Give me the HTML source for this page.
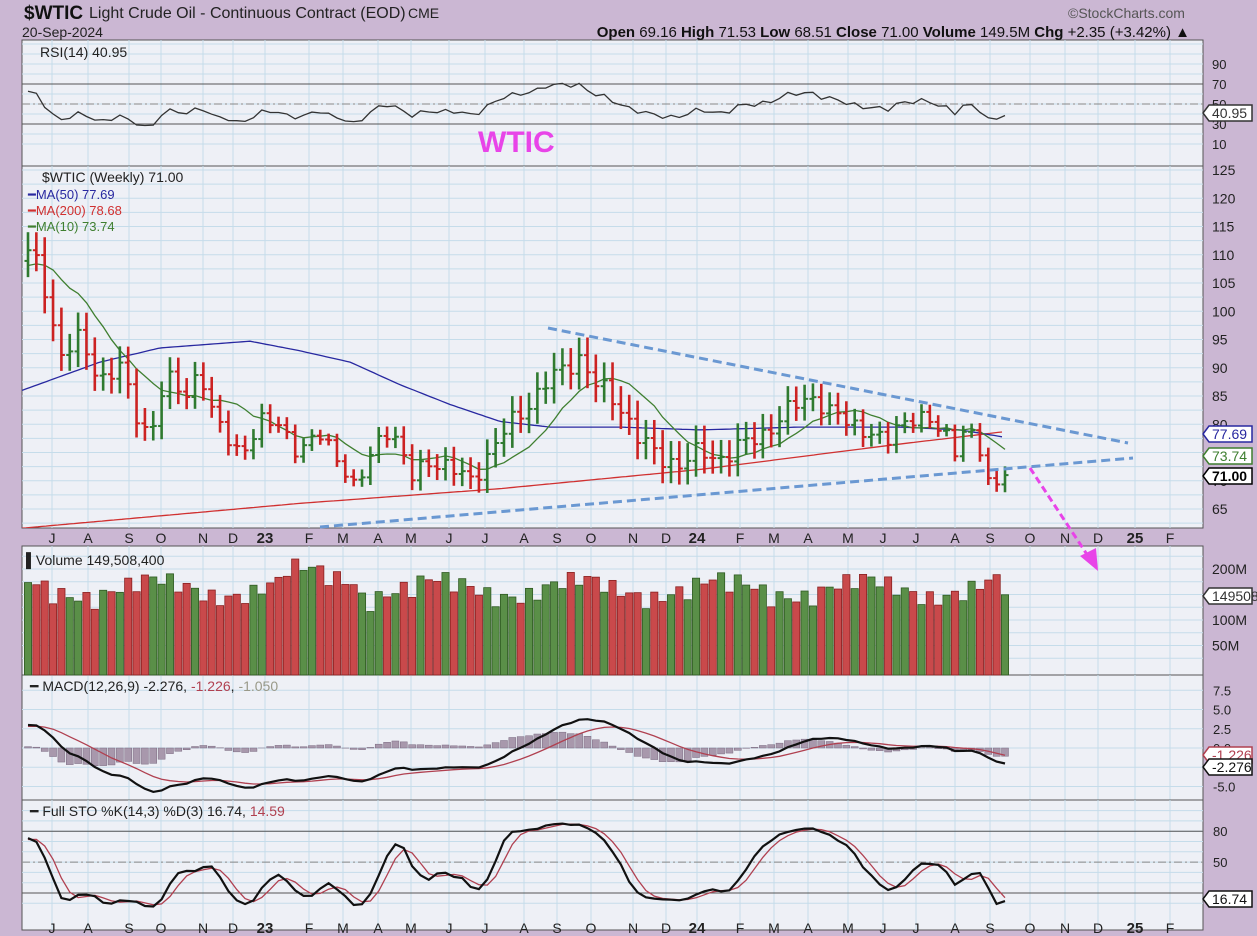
<!DOCTYPE html>
<html><head><meta charset="utf-8"><style>
body{margin:0;background:#cbb7d3;width:1257px;height:936px;overflow:hidden;font-family:"Liberation Sans",sans-serif}
svg{position:absolute;left:0;top:0}
</style></head><body>
<svg id="s" width="1257" height="936" xmlns="http://www.w3.org/2000/svg" font-family="Liberation Sans, sans-serif"></svg>
<script>
const S=document.getElementById('s');let h='';
const L=22,R=1203;
const P={rsi:[40,166],pr:[166,528],vol:[546,675],macd:[675,800],sto:[800,930]};
const months=[[52,'J'],[88,'A'],[129,'S'],[161,'O'],[203,'N'],[233,'D'],[265,'23'],[309,'F'],[343,'M'],[378,'A'],[411,'M'],[449,'J'],[485,'J'],[524,'A'],[557,'S'],[591,'O'],[633,'N'],[666,'D'],[697,'24'],[740,'F'],[774,'M'],[808,'A'],[848,'M'],[883,'J'],[916,'J'],[955,'A'],[990,'S'],[1030,'O'],[1065,'N'],[1098,'D'],[1135,'25'],[1170,'F']];
for(const k in P){const [a,b]=P[k];h+=`<rect x="${L}" y="${a}" width="${R-L}" height="${b-a}" fill="#eef0f6" stroke="#555" stroke-width="1"/>`;
 months.forEach(m=>{h+=`<line x1="${m[0]}" x2="${m[0]}" y1="${a}" y2="${b}" stroke="#c5dcea" stroke-width="1"/>`;});}
function hl(y,a,b){h+=`<line x1="${L}" x2="${R}" y1="${y}" y2="${y}" stroke="#c5dcea"/>`}
const py=p=>509-(p-65)*5.65;
for(let p=65;p<=125;p+=5){hl(py(p));h+=`<text x="1212" y="${py(p)+5}" font-size="14" fill="#222">${p}</text>`;}
for(let p=62.5;p<=125;p+=5)hl(py(p));
const ry=v=>154-v;
[10,30,50,70,90].forEach(v=>{h+=`<text x="1212" y="${ry(v)+5}" font-size="13" fill="#222">${v}</text>`});
for(let v=10;v<=110;v+=10)hl(ry(v));
h+=`<line x1="${L}" x2="${R}" y1="${ry(70)}" y2="${ry(70)}" stroke="#555"/><line x1="${L}" x2="${R}" y1="${ry(30)}" y2="${ry(30)}" stroke="#555"/><line x1="${L}" x2="${R}" y1="${ry(50)}" y2="${ry(50)}" stroke="#888" stroke-dasharray="8,3,2,3"/>`;
const vy=v=>671-v*0.51;
for(let v=25;v<=225;v+=25)hl(vy(v));
[[200,'200M'],[100,'100M'],[50,'50M']].forEach(a=>h+=`<text x="1212" y="${vy(a[0])+5}" font-size="14" fill="#222">${a[1]}</text>`);
const my=v=>748-v*7.7;
for(let v=-5;v<=7.5;v+=2.5){hl(my(v));h+=`<text x="1213" y="${my(v)+5}" font-size="13" fill="#222">${v.toFixed(1)}</text>`}
const sy=v=>913.6-v*1.03;
for(let v=10;v<=100;v+=10)hl(sy(v));
h+=`<line x1="${L}" x2="${R}" y1="${sy(80)}" y2="${sy(80)}" stroke="#555"/><line x1="${L}" x2="${R}" y1="${sy(20)}" y2="${sy(20)}" stroke="#555"/><line x1="${L}" x2="${R}" y1="${sy(50)}" y2="${sy(50)}" stroke="#888" stroke-dasharray="8,3,2,3"/>`;
[[80,'80'],[50,'50']].forEach(a=>h+=`<text x="1213" y="${sy(a[0])+5}" font-size="13" fill="#222">${a[1]}</text>`);
months.forEach(m=>{const b=m[1].length>1;h+=`<text x="${m[0]}" y="543" font-size="${b?15:14}" font-weight="${b?'bold':'normal'}" text-anchor="middle" fill="#222">${m[1]}</text>`;h+=`<text x="${m[0]}" y="933" font-size="${b?15:14}" font-weight="${b?'bold':'normal'}" text-anchor="middle" fill="#222">${m[1]}</text>`;});
const kf=[[28,110],[40,108],[50,100],[60,92],[80,95],[100,88],[120,90],[135,82],[150,78],[165,88],[185,85],[200,90],[215,80],[240,75],[260,80],[280,80],[300,75],[320,78],[340,74],[355,68],[370,74],[385,80],[400,76],[410,70],[430,74],[450,72],[470,70],[490,75],[510,80],[525,83],[545,87],[565,90],[580,92],[595,87],[610,85],[625,82],[640,77],[660,74],[680,73],[700,75],[720,74],[740,76],[760,78],[780,81],[800,84],[815,85],[830,82],[850,80],[870,79],[885,76],[900,80],[915,82],[930,80],[945,78],[955,76],[965,80],[980,75],[990,68],[1005,71]];
function interp(x){for(let i=0;i<kf.length-1;i++){if(x<=kf[i+1][0]){const t=(x-kf[i][0])/(kf[i+1][0]-kf[i][0]);return kf[i][1]+t*(kf[i+1][1]-kf[i][1]);}}return kf[kf.length-1][1];}
const N=118,st=(1005-28)/(N-1);const W=40;
let C=[],H=[],Lo=[],O=[];
for(let i=0;i<W;i++){C.push(92+18*i/W+Math.sin(i*1.7)*2);}
for(let i=0;i<N;i++){const x=28+i*st;let c=interp(x)+Math.sin(i*2.3)*1.3+Math.cos(i*1.1)*0.8;if(i==N-1)c=71;C.push(c);}
for(let i=0;i<C.length;i++){const o=i?C[i-1]:C[i];O.push(o);const r=1+Math.abs(Math.sin(i*3.1))*2.2;H.push(Math.max(o,C[i])+r);Lo.push(Math.min(o,C[i])-r*0.9);}
const X=i=>28+(i-W)*st;
function sma(n,i){let s=0;for(let j=i-n+1;j<=i;j++)s+=C[Math.max(0,j)];return s/n}
function line(pts,col,w){return `<polyline fill="none" stroke="${col}" stroke-width="${w}" points="${pts.map(p=>p[0].toFixed(1)+','+p[1].toFixed(1)).join(' ')}"/>`}
const m50k=[[22,86],[100,91],[160,93.5],[250,94.7],[300,93],[350,91],[400,87],[450,83.5],[500,80.5],[550,79.5],[620,79.5],[700,79],[800,79.5],[900,79.5],[960,79],[1005,77.7]];
function ki(k,x){for(let i=0;i<k.length-1;i++)if(x<=k[i+1][0]){const t=(x-k[i][0])/(k[i+1][0]-k[i][0]);return k[i][1]+t*(k[i+1][1]-k[i][1])}return k[k.length-1][1]}
const m200k=[[22,61.6],[300,66],[500,68.6],[700,72],[900,76.5],[1005,78.7]];
let a=[],b=[],g=[];
for(let x=22;x<=1005;x+=4){a.push([x,py(ki(m50k,x))]);b.push([x,py(ki(m200k,x))]);}
for(let i=W;i<C.length;i++)g.push([X(i),py(sma(10,i))]);
h+=`<clipPath id="cp"><rect x="${L}" y="166" width="${R-L}" height="362"/></clipPath><g clip-path="url(#cp)">`;
h+=line(b,'#d03030',1.3)+line(a,'#2828a0',1.3)+line(g,'#3f7f30',1.3);
for(let i=W;i<C.length;i++){const x=X(i),col=C[i]>=O[i]?'#2f7a2f':'#cc2222';
h+=`<line x1="${x}" x2="${x}" y1="${py(H[i])}" y2="${py(Lo[i])}" stroke="${col}" stroke-width="2.6"/><line x1="${x-3.5}" x2="${x}" y1="${py(O[i])}" y2="${py(O[i])}" stroke="${col}" stroke-width="2"/><line x1="${x}" x2="${x+3.5}" y1="${py(C[i])}" y2="${py(C[i])}" stroke="${col}" stroke-width="2"/>`;}
h+=`</g>`;
h+=`<line x1="548" y1="328" x2="1128" y2="443" stroke="#6a98d2" stroke-width="3" stroke-dasharray="9,5"/><line x1="320" y1="527" x2="1133" y2="458" stroke="#6a98d2" stroke-width="3" stroke-dasharray="9,5"/>`;
h+=`<line x1="1030" y1="468" x2="1088" y2="556" stroke="#e844e8" stroke-width="3" stroke-dasharray="7,4"/><polygon points="1098,571 1080,556 1096,548" fill="#e844e8"/>`;
for(let i=W;i<C.length;i++){const x=X(i),v=135+40*Math.abs(Math.sin(i*1.9))+20*Math.sin(i*0.37)+(i>W+30&&i<W+40?25:0);const vv=i==C.length-1?149.5:v;const up=C[i]>=O[i];
h+=`<rect x="${x-3.6}" y="${vy(vv)}" width="7.2" height="${671-vy(vv)+4}" fill="${up?'#5a8f48':'#c9494b'}" stroke="${up?'#2f5a22':'#8a2020'}" stroke-width="0.8"/>`;}
let rs=[],ag=0,al=0;for(let i=1;i<C.length;i++){const d=C[i]-C[i-1];const gg=Math.max(d,0),ll=Math.max(-d,0);if(i<=14){ag+=gg/14;al+=ll/14}else{ag=(ag*13+gg)/14;al=(al*13+ll)/14}if(i>=W){rs.push([X(i),ry(100-100/(1+ag/(al||1e-6)))])}}
h+=line(rs,'#333',1.3);
function ema(arr,n){const k=2/(n+1);let e=arr[0],o=[];arr.forEach(v=>{e=v*k+e*(1-k);o.push(e)});return o}
const e12=ema(C,12),e26=ema(C,26),md=C.map((_,i)=>e12[i]-e26[i]),sg=ema(md,9);
let mp=[],sp=[];for(let i=W;i<C.length;i++){const x=X(i),hv=md[i]-sg[i];h+=`<rect x="${x-3.5}" y="${Math.min(my(0),my(hv))}" width="7" height="${Math.abs(my(hv)-my(0))}" fill="#a898ac" stroke="#7a6a80" stroke-width="0.5"/>`;mp.push([x,my(md[i])]);sp.push([x,my(sg[i])]);}
h+=line(sp,'#b04050',1.3)+line(mp,'#111',2.2);
let rk=C.map((c,i)=>{let hh=-1e9,ll=1e9;for(let j=Math.max(0,i-13);j<=i;j++){hh=Math.max(hh,H[j]);ll=Math.min(ll,Lo[j])}return (c-ll)/(hh-ll)*100});
const sm=(arr,n)=>arr.map((_,i)=>{let s=0;for(let j=i-n+1;j<=i;j++)s+=arr[Math.max(0,j)];return s/n});
const K=sm(rk,3),D=sm(K,3);let kp=[],dp=[];
for(let i=W;i<C.length;i++){kp.push([X(i),sy(K[i])]);dp.push([X(i),sy(D[i])])}
h+=line(dp,'#b04050',1.3)+line(kp,'#111',2.2);
function tag(y,t,col,bold){h+=`<polygon points="1203,${y} 1209,${y-8} 1252,${y-8} 1252,${y+8} 1209,${y+8}" fill="#fff" stroke="${col}" stroke-width="1.5"/><text x="1212" y="${y+5}" font-size="14" font-weight="${bold?'bold':'normal'}" fill="${col}">${t}</text>`}
tag(434,'77.69','#2828a0');tag(456,'73.74','#3f7f30');tag(476,'71.00','#000',1);tag(113,'40.95','#333');tag(596,'149508','#333');tag(755,'-1.226','#b04050');tag(767,'-2.276','#111');tag(899,'16.74','#111');
h+=`<text x="24" y="19" font-size="19" font-weight="bold" fill="#111">$WTIC</text><text x="89" y="18" font-size="16" fill="#222">Light Crude Oil - Continuous Contract (EOD)</text><text x="408" y="18" font-size="14" fill="#222">CME</text>`;
h+=`<text x="1068" y="18" font-size="14" fill="#555">©StockCharts.com</text><text x="22" y="37" font-size="14" fill="#222">20-Sep-2024</text>`;
h+=`<text x="1190" y="37" font-size="15" text-anchor="end" fill="#111"><tspan font-weight="bold">Open</tspan> 69.16  <tspan font-weight="bold">High</tspan> 71.53  <tspan font-weight="bold">Low</tspan> 68.51  <tspan font-weight="bold">Close</tspan> 71.00  <tspan font-weight="bold">Volume</tspan> 149.5M  <tspan font-weight="bold">Chg</tspan> +2.35 (+3.42%) ▲</text>`;
h+=`<text x="40" y="57" font-size="14" fill="#222">RSI(14) 40.95</text><text x="478" y="152" font-size="30" font-weight="bold" fill="#e844e8">WTIC</text>`;
h+=`<text x="42" y="182" font-size="14" fill="#222">$WTIC (Weekly) 71.00</text><text x="28" y="199" font-size="13" fill="#2828a0">━MA(50) 77.69</text><text x="28" y="215" font-size="13" fill="#d03030">━MA(200) 78.68</text><text x="28" y="231" font-size="13" fill="#3f7f30">━MA(10) 73.74</text>`;
h+=`<text x="26" y="565" font-size="14" fill="#222">▌Volume 149,508,400</text>`;
h+=`<text x="30" y="691" font-size="14" fill="#222">━ MACD(12,26,9) -2.276, <tspan fill="#b04050">-1.226</tspan>, <tspan fill="#998">-1.050</tspan></text>`;
h+=`<text x="30" y="816" font-size="14" fill="#222">━ Full STO %K(14,3) %D(3) 16.74, <tspan fill="#b04050">14.59</tspan></text>`;
S.innerHTML=h;
</script>
</body></html>
